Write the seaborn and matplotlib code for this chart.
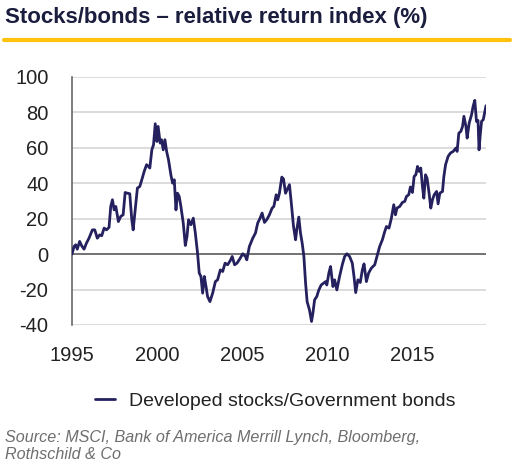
import numpy as np
import pandas as pd
import matplotlib
matplotlib.use("Agg")
import matplotlib.pyplot as plt
import seaborn as sns

# relative return index (decimal years)
years = [
    1995.0, 1995.12, 1995.22, 1995.31, 1995.45, 1995.57, 1995.71, 1995.85,
    1996.0, 1996.2, 1996.34, 1996.49, 1996.63, 1996.75, 1996.89,
    1997.03, 1997.18, 1997.28, 1997.38, 1997.48, 1997.58, 1997.73, 1997.87,
    1998.01, 1998.13, 1998.26, 1998.4, 1998.52, 1998.6, 1998.72, 1998.85, 1998.99,
    1999.11, 1999.25, 1999.39, 1999.5, 1999.58, 1999.7, 1999.8, 1999.9,
    2000.0, 2000.07, 2000.19, 2000.27, 2000.37, 2000.47, 2000.57, 2000.68, 2000.82, 2000.92,
    2001.02, 2001.12, 2001.21, 2001.31, 2001.41, 2001.55, 2001.67, 2001.77, 2001.86,
    2002.0, 2002.14, 2002.26, 2002.39, 2002.49, 2002.59, 2002.69, 2002.79, 2002.89, 2002.98,
    2003.12, 2003.28, 2003.44, 2003.57, 2003.73, 2003.87,
    2004.01, 2004.16, 2004.32, 2004.43, 2004.57, 2004.71, 2004.87,
    2005.05, 2005.21, 2005.29, 2005.44, 2005.64, 2005.8, 2005.93,
    2006.07, 2006.19, 2006.33, 2006.46, 2006.62, 2006.78, 2006.88,
    2007.02, 2007.11, 2007.21, 2007.35, 2007.45, 2007.57, 2007.68, 2007.8, 2007.9,
    2008.04, 2008.16, 2008.23, 2008.35, 2008.45, 2008.55, 2008.65, 2008.75, 2008.84, 2008.98,
    2009.1, 2009.18, 2009.28, 2009.41, 2009.53, 2009.67, 2009.81, 2009.93,
    2010.0, 2010.12, 2010.22, 2010.36, 2010.46, 2010.59, 2010.75, 2010.91,
    2011.05, 2011.18, 2011.34, 2011.5, 2011.6, 2011.7, 2011.83, 2011.97,
    2012.09, 2012.19, 2012.33, 2012.46, 2012.62, 2012.82, 2012.95,
    2013.11, 2013.27, 2013.41, 2013.51, 2013.66, 2013.8, 2013.94,
    2014.04, 2014.13, 2014.29, 2014.45, 2014.59, 2014.69, 2014.82, 2014.92,
    2015.04, 2015.14, 2015.24, 2015.34, 2015.43, 2015.53, 2015.63, 2015.71, 2015.81, 2015.9,
    2016.02, 2016.12, 2016.22, 2016.32, 2016.46, 2016.55, 2016.65, 2016.81, 2016.89, 2016.99,
    2017.14, 2017.28, 2017.44, 2017.6, 2017.67, 2017.77, 2017.89, 2017.99,
    2018.07, 2018.19, 2018.26, 2018.38, 2018.52, 2018.61, 2018.71, 2018.81, 2018.9, 2018.96,
    2019.04, 2019.11, 2019.21, 2019.37,
]
values = [
    0.0, 4.3, 5.3, 2.8, 7.2, 4.7, 2.8, 6.2,
    9.0, 13.7, 13.7, 9.0, 10.9, 10.4, 14.7,
    13.7, 15.1, 26.9, 30.7, 25.0, 26.9, 18.4, 21.3,
    22.2, 34.8, 34.4, 34.1, 19.4, 13.7, 25.0, 37.3, 38.2,
    42.0, 46.7, 50.5, 49.5, 48.6, 58.9, 61.8, 73.6,
    63.6, 72.1, 62.7, 64.6, 58.9, 64.6, 58.0, 53.3, 44.8, 40.1,
    42.0, 25.0, 34.4, 32.6, 26.9, 17.5, 4.9, 10.0, 19.4,
    16.6, 20.3, 11.9, 0.6, -10.7, -12.6, -22.0, -12.6, -18.3, -23.9,
    -26.8, -22.0, -15.5, -14.5, -8.9, -9.8,
    -5.1, -6.0, -3.6, -1.3, -6.0, -5.1, -2.8,
    0.2, -1.3, -3.2, 4.3, 9.0, 11.9, 17.5,
    20.3, 23.2, 17.9, 19.4, 22.2, 26.0, 26.9,
    33.5, 30.7, 34.4, 43.5, 42.4, 34.4, 36.7, 39.2, 29.8,
    15.6, 8.1, 13.7, 20.9, 11.9, 6.2, -1.3, -16.4, -26.8, -31.5,
    -38.0, -33.4, -25.8, -23.9, -20.2, -17.4, -16.4, -15.5,
    -17.4, -10.7, -7.0, -18.3, -14.5, -20.2, -12.6, -6.0,
    -1.3, 0.2, -1.3, -5.1, -12.6, -21.7, -14.5, -16.0,
    -8.9, -5.5, -15.5, -10.7, -7.9, -6.0, -1.3,
    4.3, 8.1, 12.8, 15.6, 14.7, 20.3, 27.9,
    22.2, 26.0, 26.9, 29.2, 29.8, 32.6, 33.5, 37.9,
    34.8, 43.9, 44.8, 49.5, 46.7, 48.6, 38.2, 31.6, 44.8, 42.9,
    34.4, 26.0, 30.7, 33.5, 35.4, 28.4, 34.4, 35.4, 43.9, 50.5,
    55.2, 57.1, 58.0, 59.9, 58.0, 68.3, 69.3, 72.1,
    77.8, 72.1, 65.5, 74.0, 78.7, 83.4, 86.8, 74.9, 75.5, 58.9,
    68.3, 75.0, 75.9, 83.8,
]

series_name = "Developed stocks/Government bonds"
title = "Stocks/bonds \u2013 relative return index (%)"
source = "Source: MSCI, Bank of America Merrill Lynch, Bloomberg,\nRothschild & Co"
yticks = [-40, -20, 0, 20, 40, 60, 80, 100]
xticks = [1995, 2000, 2005, 2010, 2015]

navy = "#24215e"
title_col = "#1b1d3f"
gold = "#ffc20e"

sns.set_style("white")
plt.rcParams['font.family'] = ['Liberation Sans', 'DejaVu Sans']
plt.rcParams['axes.unicode_minus'] = False

df = pd.DataFrame({"year": years, "value": values})

fig = plt.figure(figsize=(5.16, 4.67), dpi=100)
ax = fig.add_axes([72 / 516, 1 - 325 / 467, 414 / 516, 248 / 467])

for yv in yticks:
    if yv != 0:
        ax.axhline(yv, color="#d9d9d9", lw=1.3, zorder=0)
ax.axhline(0, color="#5a5a5a", lw=1.2, zorder=1)

sns.lineplot(data=df, x="year", y="value", color=navy, linewidth=2.0,
             label=series_name, ax=ax, zorder=3)

ax.set_xlim(1995, 2019.37)
ax.set_ylim(-40, 100)
ax.set_xticks(xticks)
ax.set_yticks(yticks)
ax.set_xlabel("")
ax.set_ylabel("")
ax.tick_params(axis="both", length=0, labelsize=14.5, labelcolor="#222222")
ax.tick_params(axis="y", pad=17)
ax.tick_params(axis="x", pad=15)
for s in ["top", "right", "bottom"]:
    ax.spines[s].set_visible(False)
ax.spines["left"].set_color("#5a5a5a")
ax.spines["left"].set_linewidth(1.1)

ax.get_legend().remove()
fig.legend(loc="center", bbox_to_anchor=(275 / 516, 1 - 401 / 467),
           frameon=False, fontsize=14, handlelength=1.05, handletextpad=0.7,
           labelcolor="#222222")

fig.text(5 / 516, 1 - 18 / 467, title, fontsize=16, fontweight="bold",
         color=title_col, va="center", ha="left",
         family=['Liberation Sans Narrow', 'Liberation Sans'])
fig.add_artist(plt.Line2D([4 / 516, 510 / 516], [1 - 40 / 467, 1 - 40 / 467],
                          color=gold, lw=3.0, transform=fig.transFigure))
fig.text(5 / 516, 1 - 446 / 467, source, fontsize=11.6, style="italic",
         color="#6e6e6e", va="center", ha="left", linespacing=1.2)

plt.savefig("out.png", dpi=100)
plt.close()
